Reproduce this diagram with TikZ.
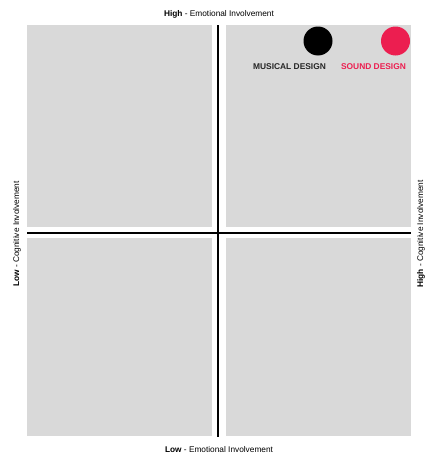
\documentclass[tikz,border=0pt]{standalone}
\usepackage{fontspec}
\setmainfont{Liberation Sans}
\definecolor{boxgray}{HTML}{D9D9D9}
\definecolor{sndred}{HTML}{EC1E50}
\tikzset{
  quad/.style={fill=boxgray, draw=none},
  axisline/.style={line width=2pt, black},
  dot/.style={circle, minimum size=29pt, inner sep=0pt, draw=none},
  lbl/.style={font=\fontsize{8.3pt}{10pt}\selectfont, inner sep=0pt},
  tag/.style={font=\fontsize{8.4pt}{10pt}\selectfont\bfseries, inner sep=0pt}
}
\begin{document}
\begin{tikzpicture}[x=1pt,y=-1pt]
\useasboundingbox (0,0) rectangle (427,455);
\fill[white] (0,0) rectangle (427,455);
% quadrants
\fill[quad] (27,25) rectangle (211.5,226.5);
\fill[quad] (225.5,25) rectangle (410.5,226.5);
\fill[quad] (27,238) rectangle (211.5,436);
\fill[quad] (225.5,238) rectangle (410.5,436);
% axes
\coordinate (vtop) at (218,25);
\coordinate (vbot) at (218,437);
\coordinate (hleft) at (27,233);
\coordinate (hright) at (410.5,233);
\draw[axisline] (vtop) -- (vbot);
\draw[axisline] (hleft) -- (hright);
% axis labels
\node[lbl] (top) at (219,14) {\textbf{High} - Emotional Involvement};
\node[lbl] (bottom) at (219,450) {\textbf{Low} - Emotional Involvement};
\node[lbl, rotate=90] (left) at (17,234) {\textbf{Low} - Cognitive Involvement};
\node[lbl, rotate=90] (right) at (421,234) {\textbf{High} - Cognitive Involvement};
% dots
\node[dot, fill=black] (musdot) at (318,41) {};
\node[dot, fill=sndred] (snddot) at (395.5,41) {};
\node[tag, text=black!85] (mus) at (289.5,67) {MUSICAL DESIGN};
\node[tag, text=sndred] (snd) at (373.5,67) {SOUND DESIGN};
\end{tikzpicture}
\end{document}
